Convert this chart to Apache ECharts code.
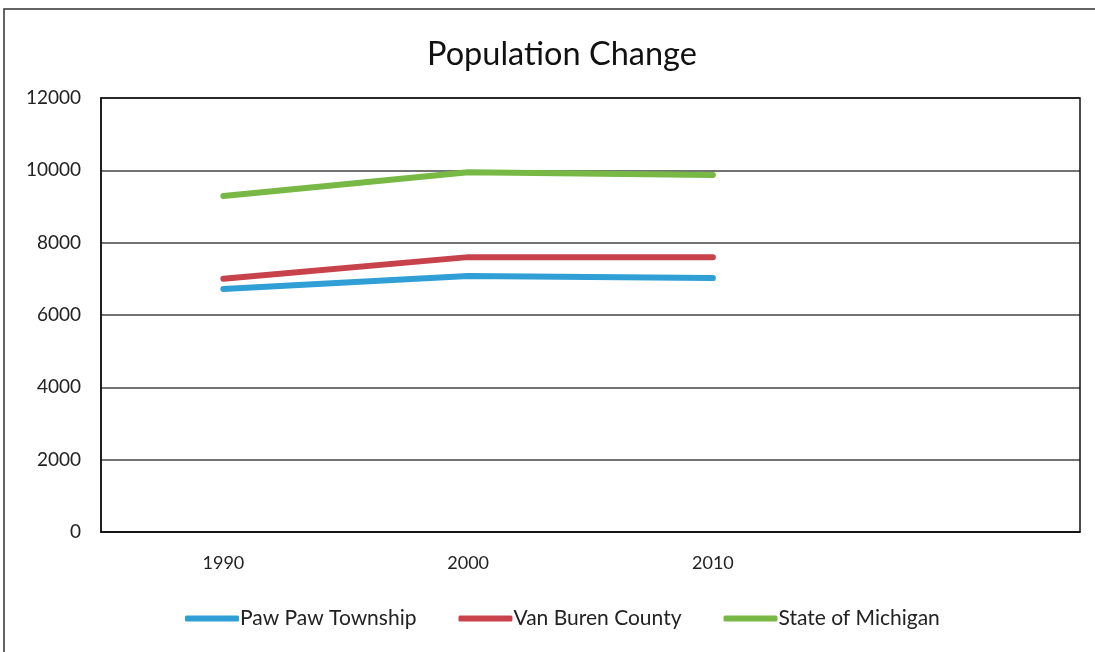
<!DOCTYPE html>
<html>
<head>
<meta charset="utf-8">
<script src="https://cdn.jsdelivr.net/npm/echarts@6/dist/echarts.min.js"></script>
<style>
  html, body { margin: 0; padding: 0; background: #fff; }
  #chart { width: 1095px; height: 652px; }
</style>
</head>
<body>
<div id="chart"></div>
<script>
// 数据
const years = ['1990', '2000', '2010', ''];
const pawPaw = [6720, 7080, 7020];
const vanBuren = [7000, 7600, 7600];
const michigan = [9290, 9950, 9870];

const dom = document.getElementById('chart');
const myChart = echarts.init(dom);
const font = 'Lato, "Open Sans", sans-serif';

let list = [
    { name: 'Paw Paw Township', data: pawPaw, color: '#2f9fd5' },
    { name: 'Van Buren County', data: vanBuren, color: '#c8424c' },
    { name: 'State of Michigan', data: michigan, color: '#77b944' }
];

let seriesArr = list.map(val => ({
    name: val.name,
    type: 'line',
    data: val.data,
    symbol: 'none',
    lineStyle: { width: 6, color: val.color, cap: 'round' },
    itemStyle: { color: val.color }
}));

const option = {
    backgroundColor: '#fff',
    animation: false,
    title: {
        text: 'Population Change',
        left: 422,
        top: 33,
        textStyle: { color: '#111', fontSize: 32.5, fontWeight: 'normal', fontFamily: font }
    },
    legend: {
        bottom: 18,
        left: 180,
        itemWidth: 54,
        itemHeight: 6,
        itemGap: 42,
        icon: 'roundRect',
        textStyle: { color: '#222', fontSize: 21, fontFamily: font, padding: [0, 0, 0, -4] },
        data: list.map(v => v.name)
    },
    grid: { left: 101, right: 15, top: 98, bottom: 120 },
    xAxis: {
        type: 'category',
        data: years,
        boundaryGap: true,
        axisTick: { show: false },
        axisLine: { lineStyle: { color: '#111', width: 1.5 } },
        axisLabel: { color: '#222', fontSize: 18, fontFamily: font, margin: 22 }
    },
    yAxis: {
        type: 'value',
        min: 0,
        max: 12000,
        interval: 2000,
        axisTick: { show: false },
        axisLine: { show: true, lineStyle: { color: '#111', width: 1.5 } },
        axisLabel: { color: '#222', fontSize: 19, fontFamily: font, margin: 20, formatter: v => String(v) },
        splitLine: { lineStyle: { color: '#444', width: 1.5 } }
    },
    graphic: [
        {
            type: 'rect',
            shape: { x: 4, y: 9, width: 1100, height: 660 },
            style: { fill: 'none', stroke: '#333', lineWidth: 1.5 },
            silent: true
        },
        {
            type: 'rect',
            shape: { x: 101, y: 98, width: 979, height: 434 },
            style: { fill: 'none', stroke: '#111', lineWidth: 1.5 },
            silent: true,
            z: 100
        }
    ],
    series: seriesArr
};

myChart.setOption(option);
</script>
</body>
</html>
